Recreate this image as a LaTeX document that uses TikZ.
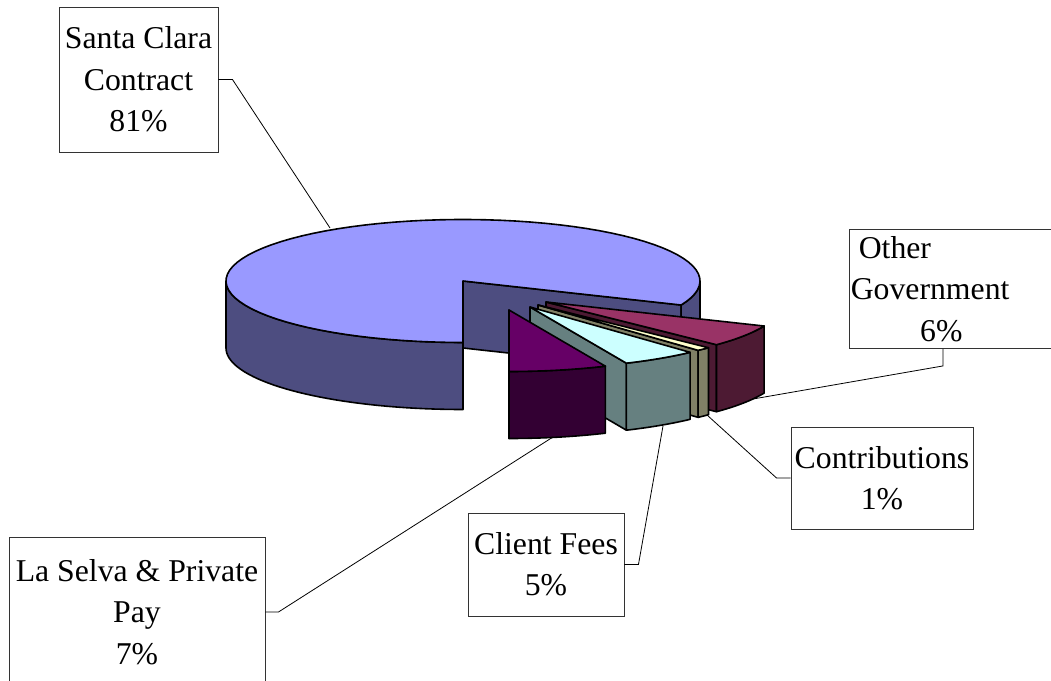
\documentclass[tikz,border=0pt]{standalone}
\usepackage{fontspec}
\setmainfont{Liberation Serif}
\usepackage{xcolor}
\definecolor{santatop}{RGB}{153, 153, 255}
\definecolor{santaside}{RGB}{77, 77, 128}
\definecolor{selvatop}{RGB}{102, 0, 102}
\definecolor{selvaside}{RGB}{51, 0, 51}
\definecolor{feetop}{RGB}{204, 255, 255}
\definecolor{feeside}{RGB}{102, 128, 128}
\definecolor{contribtop}{RGB}{255, 255, 204}
\definecolor{contribside}{RGB}{128, 128, 102}
\definecolor{govtop}{RGB}{153, 51, 102}
\definecolor{govside}{RGB}{77, 26, 51}
\usepackage{tikz}
\usetikzlibrary{positioning}

% pie radii and thickness (pixels)
\def\prx{237}
\def\pry{61.5}
\def\pdepth{67}

% top face: apex x, apex y, from angle, to angle, colour
\newcommand{\pietop}[5]{%
  \filldraw[piece, fill=#5] (#1,#2) -- plot[domain=#3:#4, samples=80]
    ({#1+\prx*cos(\x)},{#2+\pry*sin(\x)}) -- cycle;}
% outer wall
\newcommand{\piewall}[5]{%
  \filldraw[piece, fill=#5] plot[domain=#3:#4, samples=40]
    ({#1+\prx*cos(\x)},{#2+\pry*sin(\x)}) -- plot[domain=#3:#4, samples=40]
    ({#1+\prx*cos(#3+#4-\x)},{#2+\pdepth+\pry*sin(#3+#4-\x)}) -- cycle;}
% radial cut face
\newcommand{\pieface}[4]{%
  \filldraw[piece, fill=#4] (#1,#2) -- ({#1+\prx*cos(#3)},{#2+\pry*sin(#3)})
    -- ++(0,\pdepth) -- ({#1},{#2+\pdepth}) -- cycle;}

\begin{document}
\begin{tikzpicture}[
        x=0.75pt, y=-0.75pt,
        piece/.style={
            draw=black,
            line width=1.2pt,
            line join=round
        },
        lbl/.style={
            draw=black!80,
            line width=0.7pt,
            fill=white,
            align=center,
            inner sep=1pt,
            font=\fontsize{23.8}{31}\selectfont
        },
        leader/.style={
            draw=black,
            line width=0.6pt
        }
    ]
        \useasboundingbox (0,0) rectangle (1051,681);
        \clip (0,0) rectangle (1051,681);

        % Santa Clara Contract (main pie)
        \pieface{463}{281}{23}{santaside}
        \piewall{463}{281}{0}{23}{santaside}
        \piewall{463}{281}{90}{180}{santaside}
        \pietop{463}{281}{90}{383}{santatop}

        % Other Government
        \pieface{546}{302}{44}{govside}
        \piewall{546}{302}{23}{44}{govside}
        \pietop{546}{302}{23}{44}{govtop}

        % Contributions
        \pieface{538}{305}{47.5}{contribside}
        \piewall{538}{305}{44}{47.5}{contribside}
        \pietop{538}{305}{44}{47.5}{contribtop}

        % Client Fees
        \pieface{530}{307}{66}{feeside}
        \piewall{530}{307}{47.5}{66}{feeside}
        \pietop{530}{307}{47.5}{66}{feetop}

        % La Selva & Private Pay
        \pieface{509}{310}{90}{selvaside}
        \piewall{509}{310}{66}{90}{selvaside}
        \pietop{509}{310}{66}{90}{selvatop}

        % Leader ends
        \coordinate (santaTip) at (330,228);
        \coordinate (govTip) at (753,399);
        \coordinate (contribTip) at (707,415);
        \coordinate (feeTip) at (663,426);
        \coordinate (selvaTip) at (553,437);

        % Labels
        \node[lbl, minimum width=119.25pt, minimum height=108.75pt] (santa) at (138.5,79.5) {Santa Clara\\Contract\\81\%};
        \node[lbl, anchor=north west, align=left, text width=163pt, minimum height=89.25pt] (gov) at (849,229) {\hspace*{6pt}Other\\Government\\\hspace*{52pt}6\%};
        \node[lbl, minimum width=136.5pt, minimum height=76.5pt] (contrib) at (882,478) {Contributions\\1\%};
        \node[lbl, minimum width=117pt, minimum height=77.25pt] (fee) at (546,564.5) {Client Fees\\5\%};
        \node[lbl, minimum width=192pt, minimum height=112.5pt] (selva) at (137,612) {La Selva \& Private\\Pay\\7\%};

        % Leaders
        \draw[leader] (santa.east) -- ++(14,0) -- (santaTip);
        \draw[leader] ([xshift=70.5pt]gov.south west) -- ++(0,17) -- (govTip);
        \draw[leader] (contrib.west) -- ++(-14,0) -- (contribTip);
        \draw[leader] (fee.east) -- ++(14,0) -- (feeTip);
        \draw[leader] (selva.east) -- ++(13,0) -- (selvaTip);
    \end{tikzpicture}
\end{document}
